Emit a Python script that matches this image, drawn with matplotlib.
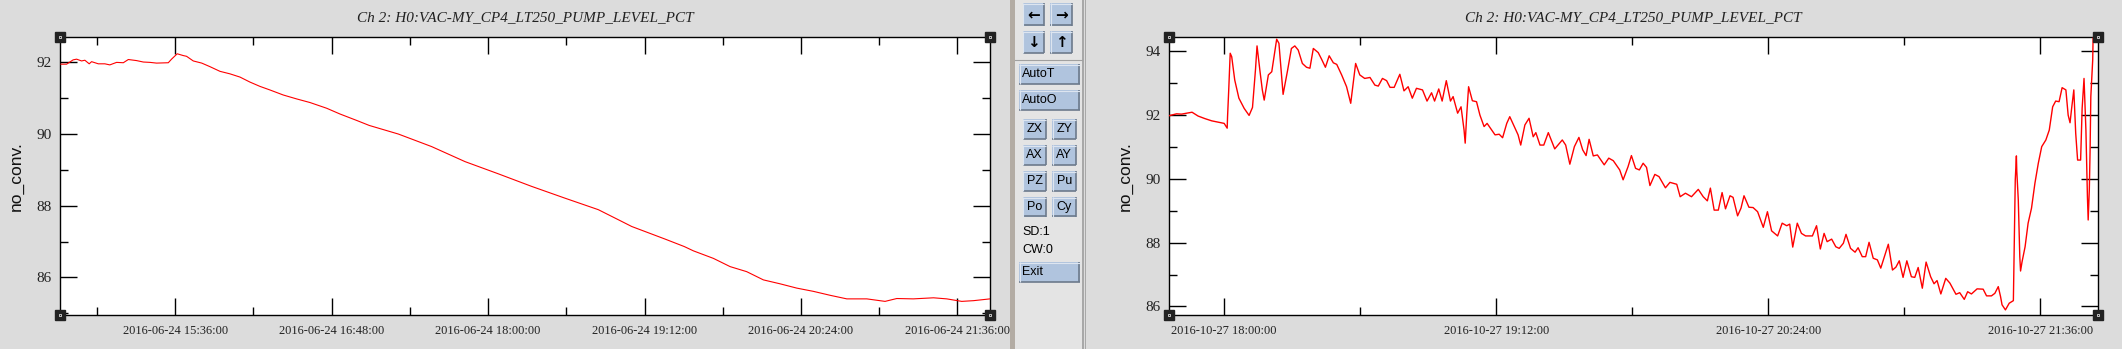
import matplotlib
matplotlib.use("Agg")
import matplotlib.pyplot as plt
import matplotlib.dates as mdates
from matplotlib.patches import Rectangle
from matplotlib.ticker import MultipleLocator, FixedLocator
import pandas as pd

title = "Ch 2: H0:VAC-MY_CP4_LT250_PUMP_LEVEL_PCT"
ylabel = "no_conv."

# left panel: minutes relative to 2016-06-24 15:36:00
left_t0 = "2016-06-24 15:36:00"
left_min = [-52.6, -50, -47, -45.4, -43.1, -41.6, -39.6, -38.5, -35.4, -32.4,
            -30.1, -27, -23.9, -21.6, -17.8, -14.7, -11.6, -8.6, -3.2, -1.7,
            0.9, 3.7, 5.2, 8.3, 12.2, 16, 20.6, 25.2, 29.8, 34.4,
            39, 43.6, 49.7, 55.9, 62, 69.7, 75.8, 83.5, 89.3, 102.7,
            118, 133.4, 148.7, 164, 179.4, 194.7, 203.9, 210.1, 225.4, 234.3,
            238.5, 247.7, 255.4, 263, 270.7, 278.4, 286.1, 293.7, 301.4, 309.1,
            318.3, 326.7, 332.1, 339.7, 349, 355.1, 362, 367.4, 375]
left_val = [91.95, 91.95, 92.07, 92.09, 92.04, 92.06, 91.96, 92.02, 91.96, 91.96,
            91.93, 92.0, 91.99, 92.08, 92.05, 92.01, 92.0, 91.98, 91.99, 92.09,
            92.24, 92.19, 92.17, 92.04, 91.98, 91.88, 91.75, 91.68, 91.59, 91.45,
            91.33, 91.23, 91.09, 90.98, 90.88, 90.72, 90.56, 90.38, 90.24, 90.0,
            89.65, 89.23, 88.89, 88.54, 88.21, 87.89, 87.61, 87.42, 87.07, 86.86,
            86.74, 86.53, 86.30, 86.16, 85.93, 85.82, 85.70, 85.61, 85.50, 85.40,
            85.40, 85.33, 85.41, 85.40, 85.43, 85.40, 85.33, 85.35, 85.40]
left_ticks = ["2016-06-24 15:36:00", "2016-06-24 16:48:00", "2016-06-24 18:00:00",
              "2016-06-24 19:12:00", "2016-06-24 20:24:00", "2016-06-24 21:36:00"]
left_xlim = ["2016-06-24 14:43:06", "2016-06-24 21:51:00"]
left_ylim = [84.95, 92.70]

# right panel: minutes relative to 2016-10-27 18:00:00
right_t0 = "2016-10-27 18:00:00"
right_min = [-14.6, -12.6, -11.3, -8.5, -6.9, -5.1, -3.3, -1.6, 0, 0.8,
             0.9, 1.2, 1.6, 2.0, 2.8, 3.9, 5.3, 6.6, 7.5, 8.3,
             8.7, 9.5, 10.1, 10.6, 11.7, 12.6, 13.2, 13.9, 14.5, 15.0,
             15.6, 16.8, 17.8, 18.7, 19.6, 20.7, 21.8, 22.7, 23.6, 24.9,
             25.8, 26.8, 27.8, 28.9, 29.8, 31.1, 32.4, 33.5, 34.3, 34.8,
             35.9, 37.2, 38.6, 39.9, 40.8, 41.9, 43.0, 43.9, 45.0, 46.5,
             47.6, 48.7, 49.8, 50.9, 52.5, 53.7, 54.9, 55.7, 56.8, 57.7,
             58.8, 59.9, 60.6, 61.8, 62.7, 63.5, 63.8, 64.2, 64.7, 65.7,
             66.8, 67.7, 68.8, 69.6, 71.7, 72.8, 73.7, 74.8, 75.6, 77.0,
             77.8, 78.5, 79.6, 80.7, 81.8, 82.5, 83.6, 84.6, 85.8, 87.5,
             89.5, 90.4, 91.5, 92.7, 93.9, 94.9, 95.8, 96.6, 97.7, 98.8,
             100.6, 101.8, 103.0, 104.7, 105.6, 106.9, 107.8, 108.9, 109.9, 110.9,
             111.8, 112.7, 114.0, 115.1, 116.8, 118.0, 119.8, 120.7, 122.1, 123.7,
             125.5, 126.8, 127.9, 128.7, 129.7, 130.8, 131.8, 132.7, 133.9, 134.7,
             135.9, 136.8, 137.6, 138.9, 140.0, 141.2, 142.7, 143.8, 144.9, 146.5,
             147.7, 148.9, 149.7, 150.5, 151.7, 152.8, 153.9, 155.7, 156.8, 157.8,
             158.8, 159.6, 160.8, 161.9, 162.8, 163.9, 164.6, 165.8, 167.0, 167.8,
             168.9, 169.8, 170.7, 171.8, 172.9, 173.8, 174.9, 175.8, 176.9, 177.8,
             178.7, 179.7, 180.7, 181.9, 182.8, 183.7, 184.8, 185.8, 187.0, 187.9,
             188.7, 189.7, 191.0, 192.1, 193.7, 194.7, 195.9, 196.8, 197.8, 199.3,
             200.9, 201.8, 203.1, 204.0, 204.9, 205.5, 205.9, 206.8, 207.8, 208.9,
             209.0, 209.4, 209.7, 209.8, 210.2, 210.6, 210.8, 211.2, 212.0, 212.8,
             213.7, 214.6, 215.5, 216.4, 217.5, 218.4, 219.3, 220.1, 221.0, 221.8,
             222.8, 223.4, 223.9, 224.3, 224.9, 225.4, 225.9, 226.7, 227.1, 227.6,
             228.1, 228.5, 228.7, 229.0, 229.2, 229.4, 229.9, 230.0]
right_val = [91.98, 92.04, 92.03, 92.09, 91.97, 91.89, 91.82, 91.78, 91.74, 91.59,
             91.95, 92.76, 93.94, 93.83, 93.10, 92.53, 92.21, 91.99, 92.24, 93.44,
             94.17, 93.36, 92.79, 92.47, 93.26, 93.36, 93.83, 94.38, 94.25, 93.52,
             92.65, 93.41, 94.09, 94.17, 94.04, 93.62, 93.50, 93.47, 94.09, 93.96,
             93.75, 93.50, 93.86, 93.64, 93.59, 93.26, 92.89, 92.37, 93.15, 93.62,
             93.26, 93.15, 93.18, 92.94, 92.91, 93.15, 93.08, 92.87, 92.87, 93.28,
             92.76, 92.89, 92.53, 92.84, 92.79, 92.44, 92.70, 92.44, 92.82, 92.44,
             93.08, 92.44, 92.58, 92.06, 92.26, 91.53, 91.12, 92.00, 92.89, 92.45,
             92.42, 92.00, 91.64, 91.74, 91.38, 91.40, 91.29, 91.74, 91.95, 91.59,
             91.38, 91.06, 91.69, 91.90, 91.32, 91.45, 91.06, 91.06, 91.45, 90.94,
             91.22, 91.06, 90.46, 91.01, 91.30, 90.91, 90.73, 91.24, 90.72, 90.75,
             90.44, 90.65, 90.57, 90.28, 89.97, 90.38, 90.73, 90.33, 90.28, 90.49,
             90.36, 89.79, 90.14, 90.07, 89.72, 89.89, 89.83, 89.44, 89.55, 89.44,
             89.67, 89.44, 89.31, 89.71, 89.02, 89.02, 89.57, 89.06, 89.47, 89.42,
             88.84, 89.08, 89.47, 89.11, 89.10, 88.97, 88.48, 88.97, 88.37, 88.21,
             88.61, 88.53, 88.58, 87.86, 88.61, 88.29, 88.21, 88.21, 88.53, 87.80,
             88.29, 88.03, 88.11, 87.87, 87.82, 87.98, 88.26, 87.82, 87.70, 87.84,
             87.56, 87.56, 88.01, 87.51, 87.46, 87.20, 87.61, 87.95, 87.14, 87.23,
             87.43, 86.91, 87.43, 86.93, 86.91, 87.22, 86.57, 87.39, 86.93, 86.71,
             86.81, 86.39, 86.88, 86.73, 86.38, 86.43, 86.22, 86.46, 86.39, 86.55,
             86.54, 86.33, 86.33, 86.41, 86.62, 86.31, 86.05, 85.89, 86.10, 86.18,
             86.96, 89.97, 90.72, 90.25, 89.34, 87.56, 87.11, 87.40, 87.87, 88.61,
             89.08, 89.86, 90.49, 91.01, 91.22, 91.53, 92.26, 92.44, 92.42, 92.86,
             92.79, 92.00, 91.76, 92.19, 92.79, 91.43, 90.59, 90.59, 92.21, 93.15,
             91.53, 89.44, 88.71, 89.65, 90.85, 92.58, 93.73, 94.41]
right_ticks = ["2016-10-27 18:00:00", "2016-10-27 19:12:00",
               "2016-10-27 20:24:00", "2016-10-27 21:36:00"]
right_xlim = ["2016-10-27 17:45:24", "2016-10-27 21:51:18"]
right_ylim = [85.73, 94.44]

W, H = 2122, 349
bg = "#dcdcdc"
fig = plt.figure(figsize=(W / 100, H / 100), dpi=100, facecolor=bg)

serif = ["Liberation Serif", "DejaVu Serif"]
sans = ["Liberation Sans", "DejaVu Sans"]


def draw_plot(rect, t0, minutes, values, ticks, xlim, ylim, lw):
    ax = fig.add_axes(rect)
    ax.set_facecolor("white")
    times = pd.Timestamp(t0) + pd.to_timedelta(minutes, unit="min")
    ax.plot(times, values, color="red", lw=lw, zorder=3)
    ax.set_xlim(pd.Timestamp(xlim[0]), pd.Timestamp(xlim[1]))
    ax.set_ylim(*ylim)

    major = [pd.Timestamp(t) for t in ticks]
    minor = pd.date_range(major[0] - pd.Timedelta(minutes=36), major[-1], freq="36min")
    ax.xaxis.set_major_locator(FixedLocator(mdates.date2num(major)))
    ax.xaxis.set_minor_locator(FixedLocator(mdates.date2num(minor)))
    ax.xaxis.set_major_formatter(mdates.DateFormatter("%Y-%m-%d %H:%M:%S"))
    ax.yaxis.set_major_locator(MultipleLocator(2))
    ax.yaxis.set_minor_locator(MultipleLocator(1))

    ax.tick_params(which="both", direction="in", top=True, right=True,
                   color="black", width=1.0)
    ax.tick_params(which="major", length=12)
    ax.tick_params(which="minor", length=6)
    ax.tick_params(axis="x", which="major", pad=7, labelsize=8.9, labelcolor="#222222")
    ax.tick_params(axis="y", which="major", pad=6, labelsize=11, labelcolor="#222222")
    for lab in ax.get_xticklabels() + ax.get_yticklabels():
        lab.set_family(serif)
    for s in ax.spines.values():
        s.set_linewidth(1.0)
        s.set_color("black")

    ax.set_ylabel(ylabel, family=sans, fontsize=12.5, labelpad=9, color="#111111")
    ax.set_title(title, family=serif, style="italic", fontsize=11, pad=12,
                 color="#222222")

    # corner handles
    for cx, cy in [(0, 0), (0, 1), (1, 0), (1, 1)]:
        ax.plot([cx], [cy], marker="s", ms=7, mfc="#222222", mec="#222222",
                transform=ax.transAxes, clip_on=False, zorder=5)
        ax.plot([cx], [cy], marker="s", ms=1.8, mfc="#222222", mec="white", mew=0.5,
                transform=ax.transAxes, clip_on=False, zorder=6)
    return ax


left_rect = [60.3 / W, 1 - 315 / H, (990 - 60.3) / W, (315 - 37.3) / H]
right_rect = [1169 / W, 1 - 315 / H, (2098 - 1169) / W, (315 - 37.3) / H]
draw_plot(left_rect, left_t0, left_min, left_val, left_ticks, left_xlim, left_ylim, 0.8)
draw_plot(right_rect, right_t0, right_min, right_val, right_ticks, right_xlim, right_ylim, 1.0)

# control panel between the plots
pa = fig.add_axes([1000 / W, 0, 100 / W, 1])
pa.set_xlim(1000, 1100)
pa.set_ylim(H, 0)
pa.axis("off")
pa.add_patch(Rectangle((1010, 0), 5, H, color="#b3aca4", lw=0))
pa.add_patch(Rectangle((1015, 0), 67, H, color="#e4e4e4", lw=0))
pa.add_patch(Rectangle((1082, 0), 1.5, H, color="#a8a8a8", lw=0))
pa.add_patch(Rectangle((1084.5, 0), 1.5, H, color="#a8a8a8", lw=0))
pa.plot([1015, 1082], [60, 60], color="#a0a0a0", lw=0.8)


def button(x0, y0, x1, y1, label, ha="center", size=9, bold=False):
    pa.add_patch(Rectangle((x0, y0), x1 - x0, y1 - y0, color="#b0c4de", lw=0))
    pa.plot([x0, x1], [y1 - 0.7, y1 - 0.7], color="#6c7a8c", lw=1.2, solid_capstyle="butt")
    pa.plot([x1 - 0.7, x1 - 0.7], [y0, y1], color="#6c7a8c", lw=1.2, solid_capstyle="butt")
    pa.plot([x0, x1], [y0 + 0.5, y0 + 0.5], color="#dde5f0", lw=0.8, solid_capstyle="butt")
    pa.plot([x0 + 0.5, x0 + 0.5], [y0, y1], color="#dde5f0", lw=0.8, solid_capstyle="butt")
    tx = (x0 + x1) / 2 if ha == "center" else x0 + 3
    pa.text(tx, (y0 + y1) / 2, label, ha=ha, va="center", fontsize=size,
            family=sans if not bold else ["DejaVu Sans"],
            fontweight="bold" if bold else "normal", color="black")


button(1022.7, 3.3, 1044.3, 25.7, "\u2190", size=11, bold=True)
button(1050, 3.3, 1072.3, 25.7, "\u2192", size=11, bold=True)
button(1022.7, 31, 1044.3, 53.3, "\u2193", size=11, bold=True)
button(1050, 31, 1072.3, 53.3, "\u2191", size=11, bold=True)
button(1019.3, 64.3, 1080, 84.3, "AutoT", ha="left")
button(1019.3, 90.3, 1080, 110.3, "AutoO", ha="left")
rows = [("ZX", "ZY", 119.3), ("AX", "AY", 145.3), ("PZ", "Pu", 171.3), ("Po", "Cy", 197)]
for a, b, y in rows:
    button(1022.7, y, 1046.3, y + 20, a)
    button(1052.3, y, 1076.3, y + 20, b)
pa.text(1022.7, 231.7, "SD:1", ha="left", va="center", fontsize=9, family=sans)
pa.text(1022.7, 249.7, "CW:0", ha="left", va="center", fontsize=9, family=sans)
button(1019.3, 262.3, 1080, 282.3, "Exit", ha="left")

fig.savefig("out.png", dpi=100, facecolor=bg)
